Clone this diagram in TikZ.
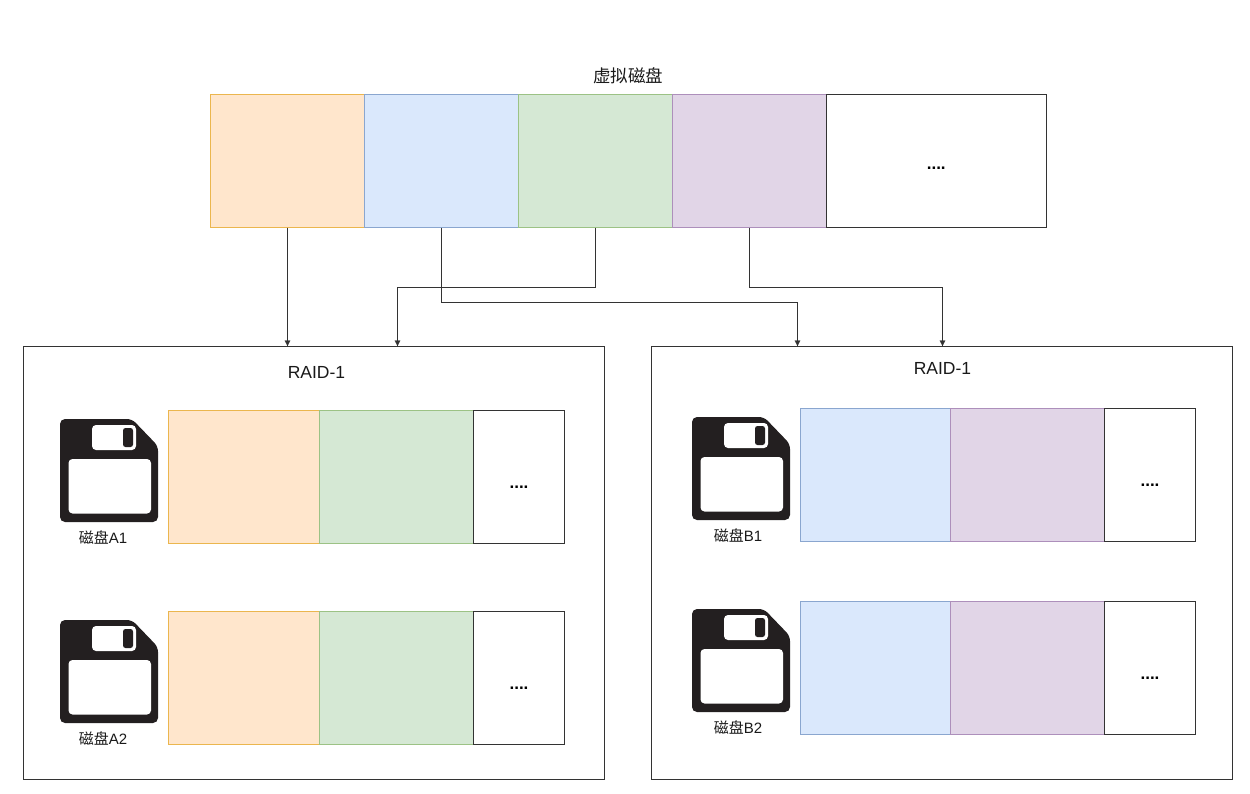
\documentclass[tikz,border=0pt]{standalone}
\usepackage{fontspec}
\setmainfont{Liberation Sans}
\newfontfamily\cjk{Noto Sans CJK SC}
\usetikzlibrary{arrows.meta}
\definecolor{darkdisk}{HTML}{231F20}
\definecolor{orangefill}{HTML}{FFE6CC}
\definecolor{orangeline}{HTML}{EBB64E}
\definecolor{bluefill}{HTML}{DAE8FC}
\definecolor{blueline}{HTML}{8AA6CF}
\definecolor{greenfill}{HTML}{D5E8D4}
\definecolor{greenline}{HTML}{9CC285}
\definecolor{purplefill}{HTML}{E1D5E7}
\definecolor{purpleline}{HTML}{AD8FBB}
\newcommand\restdots[1]{\raisebox{#1}[0pt][0pt]{....}}
\tikzset{
  block/.style={anchor=north west,inner sep=0pt,outer sep=0pt,minimum height=#1},
  block/.default=133pt,
  orangeblock/.style={block,draw=orangeline,fill=orangefill},
  blueblock/.style={block,draw=blueline,fill=bluefill},
  greenblock/.style={block,draw=greenline,fill=greenfill},
  purpleblock/.style={block,draw=purpleline,fill=purplefill},
  restblock/.style={block,draw=black!80,fill=white,font=\bfseries\fontsize{17}{20}\selectfont},
  raidbox/.style={anchor=north west,draw=black!80,inner sep=0pt,outer sep=0pt,minimum width=581pt,minimum height=433pt},
  title/.style={font=\fontsize{17.5}{20}\selectfont,text=black!90},
  disklabel/.style={font=\fontsize{15}{17}\selectfont,text=black!90},
  link/.style={draw=black!80,-{Latex[length=6pt,width=6pt]}},
  floppy/.pic={
    \fill [darkdisk,rounded corners=5pt] (0,0) -- (72,0) -- (98,27) -- (98,103) -- (0,103) -- cycle;
    \fill [white,rounded corners=4pt] (8.5,40) rectangle (91,94.5);
    \fill [white,rounded corners=4pt] (32,6) rectangle (76,31);
    \fill [darkdisk,rounded corners=2.5pt] (63,9) rectangle (73,28);
  }
}
\begin{document}
\begin{tikzpicture}[x=1pt,y=-1pt]
  \useasboundingbox (0,0) rectangle (1250,793);
  % virtual disk
  \node [title] (vtitle) at (628,76) {{\cjk 虚拟磁盘}};
  \node [orangeblock,minimum width=154pt] (vorange) at (210.5,94.5) {};
  \node [blueblock,minimum width=154pt] (vblue) at (364.5,94.5) {};
  \node [greenblock,minimum width=154pt] (vgreen) at (518.5,94.5) {};
  \node [purpleblock,minimum width=154pt] (vpurple) at (672.5,94.5) {};
  \node [restblock,minimum width=219.5pt] (vrest) at (826.5,94.5) {\restdots{-8pt}};
  % raid groups
  \node [raidbox] (raidA) at (23.5,346.5) {};
  \node [raidbox] (raidB) at (651.5,346.5) {};
  \node [title] (titleA) at (316.5,372) {RAID-1};
  \node [title] (titleB) at (942.5,368) {RAID-1};
  % disk A1
  \pic (iconAone) at (60,419) {floppy};
  \node [disklabel] (labelAone) at (103,538) {{\cjk 磁盘}A1};
  \node [orangeblock,minimum width=151pt] (aoneorange) at (168.5,410.5) {};
  \node [greenblock,minimum width=154pt] (aonegreen) at (319.5,410.5) {};
  \node [restblock,minimum width=91pt] (aonerest) at (473.5,410.5) {\restdots{-11pt}};
  % disk A2
  \pic (iconAtwo) at (60,620) {floppy};
  \node [disklabel] (labelAtwo) at (103,739) {{\cjk 磁盘}A2};
  \node [orangeblock,minimum width=151pt] (atwoorange) at (168.5,611.5) {};
  \node [greenblock,minimum width=154pt] (atwogreen) at (319.5,611.5) {};
  \node [restblock,minimum width=91pt] (atworest) at (473.5,611.5) {\restdots{-11pt}};
  % disk B1
  \pic (iconBone) at (692,417) {floppy};
  \node [disklabel] (labelBone) at (738,536) {{\cjk 磁盘}B1};
  \node [blueblock,minimum width=150pt] (boneblue) at (800.5,408.5) {};
  \node [purpleblock,minimum width=154pt] (bonepurple) at (950.5,408.5) {};
  \node [restblock,minimum width=91pt] (bonerest) at (1104.5,408.5) {\restdots{-11pt}};
  % disk B2
  \pic (iconBtwo) at (692,609) {floppy};
  \node [disklabel] (labelBtwo) at (738,728) {{\cjk 磁盘}B2};
  \node [blueblock,minimum width=150pt] (btwoblue) at (800.5,601.5) {};
  \node [purpleblock,minimum width=154pt] (btwopurple) at (950.5,601.5) {};
  \node [restblock,minimum width=91pt] (btworest) at (1104.5,601.5) {\restdots{-11pt}};
  % links
  \coordinate (inAone) at (vorange.south |- raidA.north);
  \coordinate (inAtwo) at (397.5,346.5);
  \coordinate (inBone) at (797.5,346.5);
  \coordinate (inBtwo) at (942.5,346.5);
  \draw [link] (vorange.south) -- (inAone);
  \draw [link] (vgreen.south) -- ++(0,60) -| (inAtwo);
  \draw [link] (vblue.south) -- ++(0,75) -| (inBone);
  \draw [link] (vpurple.south) -- ++(0,60) -| (inBtwo);
\end{tikzpicture}
\end{document}
